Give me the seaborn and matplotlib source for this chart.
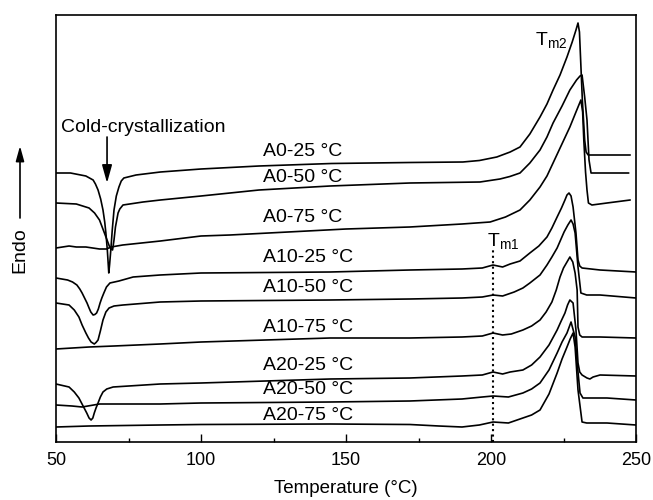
import numpy as np
import pandas as pd
import matplotlib
matplotlib.use("Agg")
import matplotlib.pyplot as plt
from matplotlib.ticker import MultipleLocator
from matplotlib.patches import FancyArrowPatch
import seaborn as sns

# ---- data (temperature in °C, heat flow in a.u. with vertical offsets) ----
t_a0_25 = [50, 55, 60.3, 62.8, 63.6, 64.5, 65.4, 66.2, 66.8, 67.2, 67.7, 68.2, 68.5, 68.9, 69.4, 70.0, 70.8, 71.7,
           72.5, 73.4, 77.6, 86, 100, 120, 145, 172, 190.3, 196, 202, 206.6, 210, 213.4, 216.9, 219.3, 221.4,
           223.8, 226.2, 228, 229.3, 230.0, 230.5, 231.5, 232.3, 232.8, 233.5, 236, 248]
h_a0_25 = [269, 269, 266, 262, 258, 252, 243, 232, 220, 209, 192, 169, 178, 192, 212, 232, 246, 255,
           261, 264, 267, 270, 273, 276, 278.5, 279.5, 280, 281.5, 285, 290, 295, 308, 325, 338, 352,
           367, 385, 400, 412, 419, 410, 342, 302, 290, 287, 287, 287]

t_a0_50 = [50, 57, 61.4, 63.3, 65, 66.7, 67.6, 68.5, 69.0, 69.5, 70.0, 70.5, 71.4, 72.0, 73.1, 80, 86, 100, 120,
           144.5, 172, 196.2, 203.1, 206.5, 210, 213.4, 216.9, 219.3, 221.4, 224.5, 227.2, 229.5, 230.7, 231.4,
           232.3, 233.1, 233.8, 234.5, 240, 247.5]
h_a0_50 = [239, 238, 234, 229, 222, 209, 202, 195, 193, 192, 202, 215, 229, 233, 237, 240, 242, 246, 252,
           256, 259, 260, 263, 265.5, 269, 279, 292, 305, 319, 336, 352, 362, 366, 367,
           345, 322, 282, 269, 269, 269]

t_a0_75 = [50, 54.5, 57, 60.3, 65, 67.4, 69, 73, 86, 100, 110, 130, 150, 172, 190, 199.7, 205, 210, 213.4,
           216.9, 219.3, 221.4, 224.3, 227.2, 229.3, 231, 231.6, 232, 232.6, 233.1, 233.6, 234.8, 240, 248]
h_a0_75 = [194, 196, 195, 195, 193, 193, 195, 197, 201, 206, 207, 210, 213, 215, 218, 220, 225, 232, 242,
           255, 266, 279, 297, 315, 330, 342, 330, 302, 270, 252, 239, 237, 239, 242]

t_a10_25 = [50, 54, 55.7, 57.2, 58.2, 59, 60.7, 61.4, 62, 62.8, 63.4, 64, 64.6, 65.2, 65.8, 66.5, 67.4, 68.6,
            71.7, 76.6, 85.9, 100, 144.5, 172, 190, 197, 200.7, 204, 206.6, 210, 213.4, 216.5, 219.3, 221,
            222.8, 224.3, 225.5, 226.2, 226.9, 227.6, 228.3, 229.3, 230, 230.6, 231.4, 237.6, 250]
h_a10_25 = [164, 162, 160, 157, 153, 149, 139, 134, 130, 127, 127.5, 129, 133, 139, 144, 149, 155, 159,
            161, 165, 167, 169, 170, 172, 173, 174, 177, 175, 178, 181, 189, 196, 205, 214,
            225, 234, 242, 247, 249, 246, 235, 209, 182, 176, 174, 172, 170]

t_a10_50 = [50, 54.5, 56.3, 57.9, 59, 60.3, 61.2, 62.1, 63.2, 63.8, 64.5, 65.3, 66.2, 67.2, 68.3, 70, 73.1,
            85.9, 100, 144.5, 172, 190, 197, 200.7, 204, 208, 211, 213.4, 216.9, 219.3, 221, 222.8, 224,
            225.2, 226.5, 227.6, 228.3, 229, 230, 231, 233, 237.6, 250]
h_a10_50 = [139, 137, 132, 125, 117, 109, 104, 100, 98, 99.5, 102, 111, 122, 130, 134, 136, 137,
            140, 141, 142, 143, 144, 145, 147, 146, 150, 154, 159, 167, 177, 185, 194, 202,
            210, 217, 222, 218, 209, 175, 149, 147, 147, 144]

t_a10_75 = [50, 61.4, 70, 85.9, 100, 144.5, 172, 190, 197, 200.7, 204, 207, 211, 214, 216.9, 219, 221, 222.5,
            223.8, 225, 226.2, 227.2, 228.2, 229.0, 229.7, 230.0, 230.6, 231.4, 237.6, 250]
h_a10_75 = [93, 95, 96, 98, 100, 104, 104, 105, 106, 109, 107, 108, 112, 116, 122, 130, 140, 152,
            165, 174, 180, 185, 180, 169, 152, 115, 107, 105, 105, 104]

t_a20_25 = [50, 54.5, 56.3, 57.9, 58.8, 59.7, 60.6, 61.4, 62.1, 62.7, 63.2, 63.8, 64.5, 65.3, 66.2, 67.5, 69.7,
            85.9, 100, 144.5, 172, 190, 197, 200.7, 204, 206.6, 211, 214, 216.9, 220, 222.8, 224.2, 225.5,
            226.4, 227.2, 228.3, 229.3, 230, 230.6, 231.4, 233.1, 234.1, 235.2, 237.6, 250]
h_a20_25 = [58, 55, 50, 44, 39, 34, 29, 24, 22, 24, 29, 34, 39, 45, 50, 53, 55,
            58, 59, 63, 64, 66, 67, 70, 68, 70, 72, 77, 85, 97, 112, 121, 129,
            137, 142, 139, 112, 79, 70, 67, 64, 63, 65, 67, 66]

t_a20_50 = [50, 55.5, 59, 65, 85.9, 100, 144.5, 172, 190, 197, 200.7, 206, 211, 214, 216.9, 220, 222.8, 224.5,
            226.2, 227.6, 229, 229.7, 230.7, 231.7, 240, 250]
h_a20_50 = [37, 36, 35, 38, 38, 39, 40, 41, 43, 45, 46, 45, 49, 53, 59, 72, 89, 100,
            109, 120, 105, 79, 49, 44, 44, 42]

t_a20_75 = [50, 61.4, 85.9, 100, 144.5, 172, 182, 190, 196, 200.7, 206, 211, 214, 216.9, 220, 222.8, 224.5,
            226.2, 227.3, 228.3, 229, 230, 231.4, 233, 240, 250]
h_a20_75 = [15, 16, 17, 17.5, 18, 17.5, 16, 15, 17, 20, 19, 24, 27, 32, 48, 69, 83,
            95, 103, 109, 95, 52, 20, 19, 19, 17]

samples = ["A0-25 °C", "A0-50 °C", "A0-75 °C", "A10-25 °C", "A10-50 °C", "A10-75 °C",
           "A20-25 °C", "A20-50 °C", "A20-75 °C"]
label_y = [290, 265, 224, 185, 155, 115, 77, 52, 27]
xticks = [50, 100, 150, 200, 250]
tm1_temp = 200.7

curves = [(t_a0_25, h_a0_25), (t_a0_50, h_a0_50), (t_a0_75, h_a0_75),
          (t_a10_25, h_a10_25), (t_a10_50, h_a10_50), (t_a10_75, h_a10_75),
          (t_a20_25, h_a20_25), (t_a20_50, h_a20_50), (t_a20_75, h_a20_75)]

frames = []
for name, (t, h) in zip(samples, curves):
    frames.append(pd.DataFrame({"T": t, "h": h, "sample": name}))
df = pd.concat(frames, ignore_index=True)

# ---- style ----
sns.set_theme(style="ticks")
plt.rcParams["font.family"] = ["Liberation Sans", "DejaVu Sans"]
plt.rcParams["mathtext.fontset"] = "custom"
plt.rcParams["mathtext.rm"] = "Liberation Sans"
plt.rcParams["mathtext.it"] = "Liberation Sans"
plt.rcParams["mathtext.default"] = "regular"
plt.rcParams["text.color"] = "black"
plt.rcParams["axes.labelcolor"] = "black"
plt.rcParams["xtick.color"] = "black"
plt.rcParams["axes.edgecolor"] = "black"

fig = plt.figure(figsize=(6.53, 5.0), dpi=100)
ax = fig.add_axes([56 / 653, 58 / 500, 580 / 653, 427 / 500])

sns.lineplot(data=df, x="T", y="h", hue="sample", palette=["black"] * len(samples),
             estimator=None, sort=False, legend=False, linewidth=1.2, ax=ax)

ax.set_xlim(50, 250)
ax.set_ylim(0, 427)
ax.set_xticks(xticks)
ax.set_xticklabels([str(v) for v in xticks])
ax.xaxis.set_minor_locator(MultipleLocator(25))
ax.set_yticks([])
ax.tick_params(axis="x", which="major", direction="in", length=6, width=1.0,
               labelsize=13, pad=7, colors="black")
ax.tick_params(axis="x", which="minor", direction="in", length=3, width=1.0, colors="black")
for s in ax.spines.values():
    s.set_visible(True)
    s.set_linewidth(1.2)
    s.set_color("black")
ax.set_xlabel("Temperature (°C)", fontsize=13.5, labelpad=8, color="black")
ax.set_ylabel("")

# sample labels
for name, y in zip(samples, label_y):
    ax.text(121.4, y, name, fontsize=14, ha="left", va="center", color="black")

# cold crystallization annotation
ax.text(51.7, 315, "Cold-crystallization", fontsize=14, ha="left", va="center", color="black")
ax.annotate("", xy=(67.6, 259), xytext=(67.6, 305),
            arrowprops=dict(arrowstyle="-|>,head_length=0.9,head_width=0.25", color="black", lw=1.2,
                            shrinkA=0, shrinkB=0))

# Tm labels
ax.text(215.2, 402, r"T$_{\mathregular{m2}}$", fontsize=14, ha="left", va="center", color="black")
ax.text(198.6, 201, r"T$_{\mathregular{m1}}$", fontsize=14, ha="left", va="center", color="black")
ax.plot([tm1_temp, tm1_temp], [0, 192], color="black", lw=1.5, linestyle=(0, (1, 1.6)))

# Endo arrow label
fig.text(20 / 653, 1 - 250 / 500, "Endo", rotation=90, ha="center", va="center", fontsize=14,
         color="black")
fig.add_artist(FancyArrowPatch(
    (20 / 653, 1 - 218 / 500), (20 / 653, 1 - 146 / 500), transform=fig.transFigure,
    arrowstyle="-|>,head_length=0.9,head_width=0.25", mutation_scale=10,
    color="black", lw=1.2, shrinkA=0, shrinkB=0))

fig.savefig("out.png", dpi=100)
